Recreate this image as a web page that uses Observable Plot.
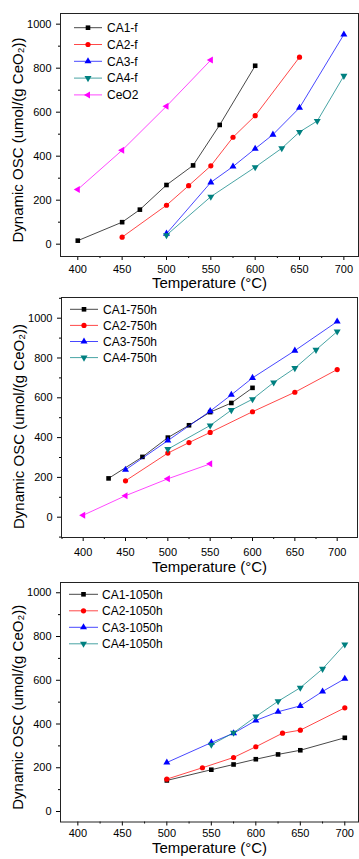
<!DOCTYPE html>
<html><head><meta charset="utf-8">
<script src="https://cdn.jsdelivr.net/npm/d3@7"></script>
<script src="https://cdn.jsdelivr.net/npm/@observablehq/plot@0.6"></script>
<style>body{margin:0;background:#fff;width:359px;height:859px;overflow:hidden}svg{display:block}</style>
</head><body><div id="c"></div>
<script>
// ---------- DATA ----------
const xTitle = "Temperature (°C)";
const yTitle = "Dynamic OSC (umol/(g CeO₂))";
const xMajor = [400, 450, 500, 550, 600, 650, 700];
const xMinor = [375, 425, 475, 525, 575, 625, 675, 725];
const yMajor = [0, 200, 400, 600, 800, 1000];
const yMinor = [-100, 100, 300, 500, 700, 900, 1100];

// Panel 1 (fresh)
const p1Labels = ["CA1-f", "CA2-f", "CA3-f", "CA4-f", "CeO2"];
const p1CA1T = [400, 450, 470, 500, 530, 560, 600];
const p1CA1V = [16, 100, 157, 269, 358, 542, 811];
const p1CA2T = [450, 500, 525, 550, 575, 600, 650];
const p1CA2V = [32, 177, 266, 356, 486, 584, 850];
const p1CA3T = [500, 550, 575, 600, 620, 650, 700];
const p1CA3V = [48, 281, 353, 434, 498, 620, 953];
const p1CA4T = [500, 550, 600, 630, 650, 670, 700];
const p1CA4V = [41, 216, 350, 436, 510, 560, 765];
const p1CeT = [400, 450, 500, 550];
const p1CeV = [249, 427, 627, 837];

// Panel 2 (750h)
const p2Labels = ["CA1-750h", "CA2-750h", "CA3-750h", "CA4-750h"];
const p2CA1T = [430, 470, 500, 525, 550, 575, 600];
const p2CA1V = [195, 303, 400, 462, 528, 574, 650];
const p2CA2T = [450, 500, 525, 550, 600, 650, 700];
const p2CA2V = [183, 322, 375, 426, 530, 628, 742];
const p2CA3T = [450, 500, 550, 575, 600, 650, 700];
const p2CA3V = [238, 385, 533, 615, 700, 837, 983];
const p2CA4T = [500, 550, 575, 600, 625, 650, 675, 700];
const p2CA4V = [342, 461, 538, 593, 677, 749, 841, 933];
const p2CeT = [400, 450, 500, 550];
const p2CeV = [10, 108, 193, 268];

// Panel 3 (1050h)
const p3Labels = ["CA1-1050h", "CA2-1050h", "CA3-1050h", "CA4-1050h"];
const p3CA1T = [500, 550, 575, 600, 625, 650, 700];
const p3CA1V = [142, 191, 215, 239, 261, 280, 337];
const p3CA2T = [500, 540, 575, 600, 630, 650, 700];
const p3CA2V = [148, 200, 247, 296, 358, 372, 474];
const p3CA3T = [500, 550, 575, 600, 625, 650, 675, 700];
const p3CA3V = [224, 315, 358, 416, 456, 483, 549, 607];
const p3CA4T = [550, 575, 600, 625, 650, 675, 700];
const p3CA4V = [305, 360, 434, 504, 566, 652, 764];

// ---------- STYLES ----------
const FONT = "'Liberation Sans', Arial, sans-serif";
const sqrt3 = Math.sqrt(3);
const triDown = {draw(ctx, size) {
  const y = -Math.sqrt(size / (sqrt3 * 3));
  ctx.moveTo(0, -y * 2); ctx.lineTo(-sqrt3 * y, y); ctx.lineTo(sqrt3 * y, y); ctx.closePath();
}};
const triLeft = {draw(ctx, size) {
  const y = -Math.sqrt(size / (sqrt3 * 3));
  ctx.moveTo(y * 2, 0); ctx.lineTo(-y, sqrt3 * y); ctx.lineTo(-y, -sqrt3 * y); ctx.closePath();
}};
const styles = [
  {color: "#000000", symbol: d3.symbolSquare},
  {color: "#ff0000", symbol: d3.symbolCircle},
  {color: "#0000ff", symbol: d3.symbolTriangle},
  {color: "#008080", symbol: triDown},
  {color: "#ff00ff", symbol: triLeft}
];
const R = 2.6;
const SYM_SIZE = Math.PI * R * R;

function rows(T, V) { return T.map((t, i) => ({t, v: V[i]})); }

function seriesMarks(list) {
  const marks = [];
  list.forEach(({T, V, k}) => {
    const d = rows(T, V), st = styles[k];
    marks.push(Plot.line(d, {x: "t", y: "v", stroke: st.color, strokeWidth: 0.9, strokeOpacity: 0.8}));
    marks.push(Plot.dot(d, {x: "t", y: "v", symbol: st.symbol, fill: st.color, stroke: "none", r: R}));
  });
  return marks;
}

function addLegend(svg, labels, L) {
  const g = d3.select(svg).append("g").attr("font-family", FONT).attr("font-size", 12).attr("text-anchor", "start");
  labels.forEach((lab, i) => {
    const st = styles[i];
    const y = L.y0 + i * L.dy;
    g.append("line").attr("x1", L.x1).attr("x2", L.x2).attr("y1", y).attr("y2", y)
      .attr("stroke", st.color).attr("stroke-width", 0.9).attr("stroke-opacity", 0.8);
    g.append("path").attr("transform", `translate(${(L.x1 + L.x2) / 2},${y})`)
      .attr("d", d3.symbol(st.symbol, SYM_SIZE)()).attr("fill", st.color);
    g.append("text").attr("x", L.tx).attr("y", y).attr("dy", "0.35em").attr("fill", "#000")
      .attr("text-anchor", "start").text(lab);
  });
}

function panel(o) {
  const svg = Plot.plot({
    width: 359, height: o.height,
    marginTop: o.mt, marginBottom: o.mb, marginLeft: o.ml, marginRight: o.mr,
    style: {fontFamily: FONT, background: "white", color: "#000", overflow: "visible"},
    x: {domain: o.xDomain},
    y: {domain: o.yDomain},
    marks: [
      Plot.axisX({ticks: xMajor, tickSize: 4, tickPadding: o.xPad, fontSize: 11, label: null, tickFormat: d3.format("d")}),
      Plot.axisX({ticks: xMinor.filter(t => t >= o.xDomain[0] && t <= o.xDomain[1]), tickSize: 2, label: null, tickFormat: () => ""}),
      Plot.axisY({ticks: yMajor, tickSize: 4, tickPadding: 5, fontSize: 11, label: null, tickFormat: d3.format("d")}),
      Plot.axisY({ticks: yMinor.filter(t => t >= o.yDomain[0] && t <= o.yDomain[1]), tickSize: 2, label: null, tickFormat: () => ""}),
      ...seriesMarks(o.series),
      Plot.frame({stroke: "#222", strokeWidth: 1}),
      Plot.text([xTitle], {frameAnchor: "bottom", dy: o.titleDy, fontSize: 15, textAnchor: "middle", lineAnchor: "middle", text: d => d}),
      Plot.text([yTitle], {frameAnchor: "left", dx: -42, dy: o.ylabDy, rotate: -90, fontSize: 15, textAnchor: "middle", lineAnchor: "middle", text: d => d})
    ]
  });
  addLegend(svg, o.labels, o.legend);
  document.getElementById("c").appendChild(svg);
}

panel({
  height: 293, mt: 13, mb: 37, ml: 60, mr: 1,
  xDomain: [380.5, 716.5], yDomain: [-56, 1048.5], xPad: 5, titleDy: 27, ylabDy: 5,
  labels: p1Labels,
  legend: {x1: 74, x2: 102, tx: 107, y0: 27.7, dy: 16.8},
  series: [
    {T: p1CA1T, V: p1CA1V, k: 0},
    {T: p1CA2T, V: p1CA2V, k: 1},
    {T: p1CA3T, V: p1CA3V, k: 2},
    {T: p1CA4T, V: p1CA4V, k: 3},
    {T: p1CeT, V: p1CeV, k: 4}
  ]
});

panel({
  height: 285, mt: 4, mb: 41, ml: 61, mr: 2,
  xDomain: [374.4, 724], yDomain: [-102, 1104], xPad: 7, titleDy: 30, ylabDy: 9,
  labels: p2Labels,
  legend: {x1: 70, x2: 98, tx: 103, y0: 16.3, dy: 16.1},
  series: [
    {T: p2CA1T, V: p2CA1V, k: 0},
    {T: p2CA2T, V: p2CA2V, k: 1},
    {T: p2CA3T, V: p2CA3V, k: 2},
    {T: p2CA4T, V: p2CA4V, k: 3},
    {T: p2CeT, V: p2CeV, k: 4}
  ]
});

panel({
  height: 281, mt: 4, mb: 37.5, ml: 60, mr: 1,
  xDomain: [380.5, 715.4], yDomain: [-48, 1047], xPad: 3, titleDy: 26, ylabDy: 5,
  labels: p3Labels,
  legend: {x1: 69, x2: 98, tx: 102, y0: 16.3, dy: 16.5},
  series: [
    {T: p3CA1T, V: p3CA1V, k: 0},
    {T: p3CA2T, V: p3CA2V, k: 1},
    {T: p3CA3T, V: p3CA3V, k: 2},
    {T: p3CA4T, V: p3CA4V, k: 3}
  ]
});
</script>
</body></html>
